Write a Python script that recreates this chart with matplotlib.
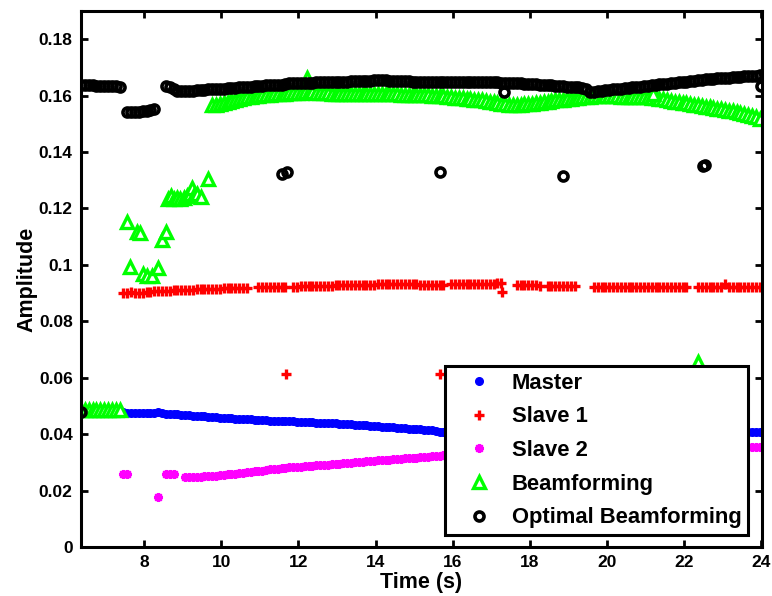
import matplotlib
matplotlib.use('Agg')
import matplotlib.pyplot as plt
import numpy as np
from matplotlib.ticker import FuncFormatter

plt.rcParams['font.family'] = ['Liberation Sans', 'DejaVu Sans']
plt.rcParams['font.weight'] = 'bold'

nan = np.nan

# shared sampling grid, 0.1 s steps from 6.36 s to 23.96 s (one row = 1 s)
t = np.round(6.36 + 0.1 * np.arange(177), 2)

master = [
    0.0480, 0.0480, 0.0480, 0.0479, 0.0479, 0.0479, 0.0478, 0.0478, 0.0478, 0.0478,
    0.0477, 0.0477, 0.0476, 0.0476, 0.0475, 0.0475, 0.0475, 0.0474, 0.0474, 0.0474,
    0.0477, 0.0476, 0.0473, 0.0472, 0.0471, 0.0470, 0.0469, 0.0468, 0.0467, 0.0466,
    0.0465, 0.0464, 0.0463, 0.0462, 0.0461, 0.0460, 0.0459, 0.0458, 0.0457, 0.0456,
    0.0455, 0.0455, 0.0454, 0.0453, 0.0452, 0.0451, 0.0451, 0.0450, 0.0449, 0.0448,
    0.0447, 0.0447, 0.0446, 0.0446, 0.0445, 0.0445, 0.0444, 0.0444, 0.0443, 0.0443,
    0.0442, 0.0441, 0.0440, 0.0440, 0.0439, 0.0438, 0.0438, 0.0437, 0.0436, 0.0436,
    0.0435, 0.0434, 0.0433, 0.0432, 0.0431, 0.0430, 0.0429, 0.0428, 0.0427, 0.0426,
    0.0425, 0.0424, 0.0423, 0.0422, 0.0421, 0.0420, 0.0419, 0.0418, 0.0417, 0.0416,
    0.0415, 0.0413, 0.0411, 0.0409, 0.0407, 0.0406, 0.0405, 0.0405, 0.0404, 0.0404,
    0.0404, 0.0403, 0.0403, 0.0403, 0.0402, 0.0402, 0.0402, 0.0401, 0.0401, 0.0401,
    0.0401, 0.0400, 0.0400, 0.0400, 0.0400, 0.0400, 0.0400, 0.0400, 0.0400, 0.0400,
    0.0400, 0.0400, 0.0400, 0.0400, 0.0400, 0.0400, 0.0400, 0.0400, 0.0400, 0.0400,
    0.0400, 0.0400, 0.0400, 0.0400, 0.0400, 0.0400, 0.0400, 0.0400, 0.0400, 0.0400,
    0.0400, 0.0400, 0.0400, 0.0401, 0.0401, 0.0401, 0.0401, 0.0402, 0.0402, 0.0402,
    0.0402, 0.0403, 0.0403, 0.0403, 0.0403, 0.0404, 0.0404, 0.0404, 0.0404, 0.0405,
    0.0405, 0.0405, 0.0405, 0.0406, 0.0406, 0.0406, 0.0406, 0.0407, 0.0407, 0.0407,
    0.0407, 0.0407, 0.0408, 0.0408, 0.0408, 0.0408, 0.0408]

slave1 = [
    nan, nan, nan, nan, nan, nan, nan, nan, nan, nan,
    nan, 0.0902, 0.0902, 0.0903, 0.0902, 0.0901, 0.0902, 0.0904, 0.0905, 0.0906,
    0.0907, 0.0908, 0.0909, 0.0909, 0.0910, 0.0910, 0.0911, 0.0911, 0.0912, 0.0912,
    0.0913, 0.0913, 0.0914, 0.0914, 0.0915, 0.0916, 0.0916, 0.0917, 0.0917, 0.0918,
    0.0918, 0.0918, 0.0918, 0.0919, nan, nan, 0.0920, 0.0920, 0.0921, 0.0921,
    0.0921, 0.0922, 0.0922, 0.0922, nan, 0.0923, 0.0923, 0.0924, 0.0924, 0.0924,
    0.0925, 0.0925, 0.0925, 0.0926, 0.0926, 0.0926, 0.0927, 0.0927, 0.0927, 0.0928,
    0.0928, 0.0928, 0.0929, 0.0929, 0.0930, 0.0930, 0.0930, 0.0931, 0.0931, 0.0931,
    0.0932, 0.0932, 0.0932, 0.0932, 0.0931, 0.0931, 0.0931, 0.0931, 0.0930, 0.0930,
    0.0930, 0.0930, 0.0930, 0.0930, 0.0930, nan, 0.0931, 0.0931, 0.0931, 0.0932,
    0.0932, 0.0932, 0.0933, 0.0933, 0.0933, 0.0934, 0.0934, 0.0934, 0.0935, 0.0935,
    nan, nan, nan, 0.0928, 0.0928, 0.0927, 0.0927, 0.0927, 0.0927, 0.0926,
    nan, 0.0925, 0.0925, 0.0925, 0.0925, 0.0925, 0.0924, 0.0924, 0.0924, nan,
    nan, nan, nan, 0.0923, 0.0923, 0.0923, 0.0923, 0.0922, 0.0922, 0.0922,
    0.0922, 0.0922, 0.0922, 0.0921, 0.0922, 0.0922, 0.0921, 0.0922, 0.0922, 0.0921,
    0.0921, 0.0921, 0.0921, 0.0921, 0.0921, 0.0920, 0.0920, 0.0920, nan, nan,
    0.0920, 0.0920, 0.0921, 0.0920, 0.0921, 0.0920, 0.0921, 0.0934, 0.0922, 0.0920,
    0.0920, 0.0920, 0.0920, 0.0920, 0.0920, 0.0920, 0.0920]

slave2 = [
    nan, nan, nan, nan, nan, nan, nan, nan, nan, nan,
    nan, 0.0257, 0.0257, nan, nan, nan, nan, nan, nan, nan,
    0.0177, nan, 0.0257, 0.0257, 0.0257, nan, nan, 0.0247, 0.0247, 0.0248,
    0.0248, 0.0249, 0.0250, 0.0251, 0.0252, 0.0253, 0.0254, 0.0255, 0.0257, 0.0258,
    0.0260, 0.0262, 0.0263, 0.0265, 0.0266, 0.0268, 0.0270, 0.0271, 0.0273, 0.0275,
    0.0277, 0.0278, 0.0280, 0.0281, 0.0282, 0.0283, 0.0284, 0.0285, 0.0286, 0.0287,
    0.0288, 0.0289, 0.0290, 0.0291, 0.0292, 0.0293, 0.0294, 0.0295, 0.0296, 0.0298,
    0.0299, 0.0300, 0.0301, 0.0302, 0.0304, 0.0305, 0.0306, 0.0307, 0.0308, 0.0309,
    0.0310, 0.0311, 0.0312, 0.0313, 0.0314, 0.0315, 0.0316, 0.0317, 0.0318, 0.0319,
    0.0320, 0.0321, 0.0323, 0.0324, 0.0326, 0.0327, 0.0328, 0.0328, 0.0329, 0.0329,
    0.0330, 0.0330, 0.0331, 0.0331, 0.0332, 0.0332, 0.0333, 0.0333, 0.0334, 0.0334,
    0.0335, 0.0335, 0.0336, 0.0336, 0.0337, 0.0337, 0.0338, 0.0338, 0.0339, 0.0339,
    0.0340, 0.0340, 0.0340, 0.0341, 0.0341, 0.0341, 0.0342, 0.0342, 0.0342, 0.0343,
    0.0343, 0.0343, 0.0344, 0.0344, 0.0344, 0.0345, 0.0345, 0.0345, 0.0345, 0.0346,
    0.0346, 0.0346, 0.0346, 0.0347, 0.0347, 0.0347, 0.0347, 0.0348, 0.0348, 0.0348,
    0.0348, 0.0349, 0.0349, 0.0349, 0.0349, 0.0350, 0.0350, 0.0350, 0.0350, 0.0351,
    0.0351, 0.0351, 0.0351, 0.0352, 0.0352, 0.0352, 0.0352, 0.0353, 0.0353, 0.0353,
    0.0353, 0.0353, 0.0354, 0.0354, 0.0354, 0.0354, 0.0355]

beam = [
    0.0486, 0.0484, 0.0487, 0.0485, 0.0486, 0.0484, 0.0487, 0.0485, 0.0486, 0.0484,
    0.0485, nan, nan, nan, nan, nan, nan, nan, nan, nan,
    nan, nan, nan, nan, nan, nan, nan, nan, nan, nan,
    nan, nan, nan, nan, 0.1566, 0.1568, 0.1572, 0.1575, 0.1578, 0.1582,
    0.1586, 0.1589, 0.1592, 0.1594, 0.1596, 0.1598, 0.1600, 0.1602, 0.1603, 0.1604,
    0.1605, 0.1606, 0.1607, 0.1607, 0.1608, 0.1609, 0.1610, 0.1611, 0.1612, 0.1613,
    0.1612, 0.1611, 0.1610, 0.1609, 0.1608, 0.1607, 0.1606, 0.1605, 0.1605, 0.1605,
    0.1606, 0.1607, 0.1606, 0.1605, 0.1605, 0.1606, 0.1607, 0.1607, 0.1606, 0.1606,
    0.1606, 0.1605, 0.1605, 0.1604, 0.1604, 0.1603, 0.1603, 0.1603, 0.1603, 0.1602,
    0.1601, 0.1600, 0.1599, 0.1598, 0.1597, 0.1595, 0.1594, 0.1593, 0.1592, 0.1591,
    0.1589, 0.1588, 0.1586, 0.1585, 0.1583, 0.1581, 0.1579, 0.1577, 0.1574, 0.1572,
    0.1569, 0.1567, 0.1566, 0.1566, 0.1567, 0.1569, 0.1570, 0.1572, 0.1573, 0.1575,
    0.1577, 0.1579, 0.1581, 0.1583, 0.1585, 0.1586, 0.1588, 0.1589, 0.1591, 0.1592,
    0.1594, 0.1595, 0.1596, 0.1597, 0.1597, 0.1598, 0.1598, 0.1598, 0.1597, 0.1597,
    0.1596, 0.1596, 0.1596, 0.1596, 0.1595, 0.1595, 0.1594, 0.1594, 0.1593, 0.1592,
    0.1589, 0.1587, 0.1584, 0.1582, 0.1579, 0.1577, 0.1575, 0.1573, 0.1571, 0.1568,
    0.1566, 0.1563, 0.1561, 0.1558, 0.1556, 0.1553, 0.1551, 0.1549, 0.1547, 0.1545,
    0.1541, 0.1539, 0.1536, 0.1533, 0.1529, 0.1524, 0.1518]

optimal = [
    0.1636, 0.1636, 0.1636, 0.1636, 0.1635, 0.1635, 0.1635, 0.1634, 0.1634, 0.1633,
    0.1632, nan, 0.1542, 0.1542, 0.1543, 0.1543, 0.1544, 0.1547, 0.1549, 0.1552,
    nan, nan, 0.1634, 0.1630, 0.1623, 0.1618, 0.1616, 0.1616, 0.1617, 0.1618,
    0.1619, 0.1620, 0.1621, 0.1622, 0.1622, 0.1623, 0.1624, 0.1625, 0.1626, 0.1627,
    0.1628, 0.1629, 0.1630, 0.1631, 0.1632, 0.1633, 0.1634, 0.1635, 0.1636, 0.1637,
    0.1638, 0.1638, 0.1639, 0.1642, 0.1645, 0.1645, 0.1645, 0.1646, 0.1646, 0.1646,
    0.1646, 0.1647, 0.1647, 0.1647, 0.1648, 0.1648, 0.1649, 0.1649, 0.1650, 0.1650,
    0.1651, 0.1651, 0.1652, 0.1652, 0.1653, 0.1653, 0.1654, 0.1654, 0.1654, 0.1654,
    0.1653, 0.1653, 0.1652, 0.1652, 0.1651, 0.1651, 0.1650, 0.1650, 0.1650, 0.1649,
    0.1649, 0.1649, 0.1649, 0.1648, 0.1648, 0.1648, 0.1648, 0.1648, 0.1648, 0.1648,
    0.1648, 0.1648, 0.1648, 0.1647, 0.1647, 0.1647, 0.1647, 0.1647, 0.1647, 0.1646,
    0.1646, 0.1645, 0.1645, 0.1644, 0.1644, 0.1643, 0.1642, 0.1641, 0.1640, 0.1639,
    0.1638, 0.1637, 0.1636, 0.1635, 0.1634, 0.1633, 0.1632, 0.1631, 0.1630, 0.1629,
    0.1627, 0.1622, 0.1613, 0.1614, 0.1616, 0.1617, 0.1619, 0.1620, 0.1622, 0.1623,
    0.1625, 0.1626, 0.1628, 0.1629, 0.1631, 0.1632, 0.1634, 0.1635, 0.1637, 0.1638,
    0.1640, 0.1641, 0.1643, 0.1644, 0.1646, 0.1647, 0.1649, 0.1650, 0.1652, 0.1653,
    0.1655, 0.1656, 0.1658, 0.1659, 0.1660, 0.1661, 0.1662, 0.1663, 0.1664, 0.1665,
    0.1666, 0.1667, 0.1668, 0.1669, 0.1670, 0.1671, 0.1672]

# samples off the regular grid (dropouts and the settling phase)
slave1_t = [11.68, 15.67, 17.27]
slave1_v = [0.0612, 0.0612, 0.0904]

beam_t = [7.54, 7.63, 7.80, 7.88, 7.97, 8.08, 8.19, 8.36, 8.45, 8.56,
          8.62, 8.70, 8.78, 8.86, 8.94, 9.02, 9.10, 9.18, 9.23, 9.30,
          9.38, 9.46, 9.65, 12.21, 21.20, 22.37]
beam_v = [0.1152, 0.0994, 0.1116, 0.1112, 0.0968, 0.0962, 0.0959, 0.0990, 0.1089, 0.1116,
          0.1235, 0.1243, 0.1232, 0.1236, 0.1232, 0.1238, 0.1244, 0.1250, 0.1273, 0.1246,
          0.1252, 0.1240, 0.1305, 0.1664, 0.1607, 0.0656]

optimal_t = [6.36, 11.57, 11.70, 15.67, 17.32, 18.87, 22.48, 22.55, 24.0]
optimal_v = [0.0480, 0.1322, 0.1330, 0.1329, 0.1612, 0.1314, 0.1352, 0.1354, 0.1635]

fig = plt.figure(figsize=(7.72, 5.96), dpi=100, facecolor='white')
ax = fig.add_axes([81 / 772, 49 / 596, 681 / 772, 536 / 596])

ax.plot(t, master, ls='none', marker='o', ms=5.5, color=(0, 0, 1),
        mec=(0, 0, 1), label='Master')
ax.plot(np.concatenate([t, slave1_t]), slave1 + slave1_v, ls='none',
        marker='+', ms=6.5, mew=2.4, color=(1, 0, 0), label='Slave 1')
ax.plot(t, slave2, ls='none', marker=(8, 2, 0), ms=6.5, mew=1.6,
        color=(1, 0, 1), label='Slave 2')
ax.plot(np.concatenate([t, beam_t]), beam + beam_v, ls='none', marker='^',
        ms=8.5, mew=2.4, mec=(0, 1, 0), mfc='white', label='Beamforming')
ax.plot(np.concatenate([t, optimal_t]), optimal + optimal_v, ls='none',
        marker='o', ms=6.5, mew=2.6, mec='black', mfc='none',
        label='Optimal Beamforming')

ax.set_xlim(6.36, 24.02)
ax.set_ylim(0, 0.19)
ax.set_xticks(np.arange(8, 25, 2))
ax.set_yticks(np.arange(0, 0.181, 0.02))
ax.yaxis.set_major_formatter(FuncFormatter(lambda v, p: '%g' % round(v, 2)))

for s in ax.spines.values():
    s.set_linewidth(2.2)
ax.tick_params(direction='in', top=True, right=True, length=5, width=2,
               labelsize=12.5, pad=6)
for lbl in ax.get_xticklabels() + ax.get_yticklabels():
    lbl.set_fontweight('bold')

ax.set_xlabel('Time (s)', fontsize=15.5, fontweight='bold', labelpad=1)
ax.set_ylabel('Amplitude', fontsize=15.5, fontweight='bold', labelpad=1)

leg = ax.legend(loc='lower right', bbox_to_anchor=(748 / 772, 61 / 596),
                bbox_transform=fig.transFigure, borderaxespad=0,
                numpoints=1, fancybox=False, framealpha=1,
                edgecolor='black', fontsize=15.8, handlelength=2.5,
                handletextpad=0.25, labelspacing=0.58, borderpad=0.3)
leg.get_frame().set_linewidth(2.2)
for txt in leg.get_texts():
    txt.set_fontweight('bold')

fig.savefig('out.png', dpi=100, facecolor='white')
plt.close(fig)
